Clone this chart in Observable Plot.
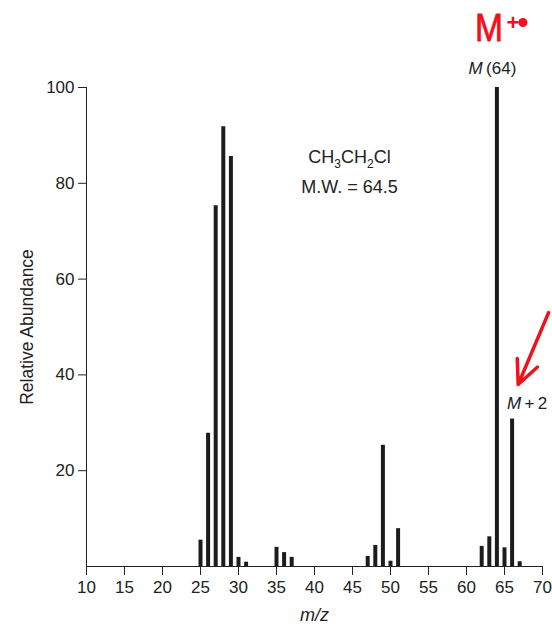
<!DOCTYPE html>
<html>
<head>
<meta charset="utf-8">
<script src="https://cdn.jsdelivr.net/npm/d3@7"></script>
<script src="https://cdn.jsdelivr.net/npm/@observablehq/plot@0.6"></script>
<style>
  html, body { margin: 0; padding: 0; background: white; }
</style>
</head>
<body>
<div id="chart"></div>
<script>
// m/z values of the peaks
const mz = [25, 26, 27, 28, 29, 30, 31, 35, 36, 37, 47, 48, 49, 50, 51, 62, 63, 64, 65, 66, 67];
// relative abundance of each peak
const abundance = [5.5, 27.8, 75.3, 91.8, 85.6, 1.9, 0.9, 4.0, 2.9, 1.9, 2.1, 4.4, 25.3, 1.1, 7.9, 4.2, 6.2, 100, 3.9, 30.8, 1.0];
// tick labels
const xTicks = [10, 15, 20, 25, 30, 35, 40, 45, 50, 55, 60, 65, 70];
const yTicks = [20, 40, 60, 80, 100];

const data = mz.map((m, i) => ({mz: m, ab: abundance[i]}));
const red = "#f2101c";

const plot = Plot.plot({
  width: 552,
  height: 625,
  marginLeft: 86,
  marginRight: 10,
  marginTop: 87,
  marginBottom: 59,
  style: {fontFamily: "'Liberation Sans', Arial, Helvetica, sans-serif", fontSize: "17px", color: "#222", background: "white"},
  x: {domain: [10, 70], ticks: xTicks, tickSize: 9, tickPadding: 5, line: true,
      label: "m/z", labelAnchor: "center", labelOffset: 54, labelArrow: "none"},
  y: {domain: [0, 100], ticks: yTicks, tickSize: 8, tickPadding: 4, line: true,
      label: "Relative Abundance", labelAnchor: "center", labelOffset: 66, labelArrow: "none"},
  marks: [
    Plot.ruleX(data, {x: "mz", y1: 0, y2: "ab", stroke: "#1c1c1c", strokeWidth: 4}),
    Plot.text(["CH3CH2Cl"], {x: 44.6, y: 85.4, text: d => d, fontSize: 18, fill: "#222"}),
    Plot.text(["M.W. = 64.5"], {x: 44.6, y: 79.2, text: d => d, fontSize: 18, fill: "#222"}),
    Plot.text(["M (64)"], {x: 64, y: 100, dx: -4.5, dy: -19, text: d => d, fontSize: 17, fill: "#222"}),
    Plot.text(["M + 2"], {x: 66, y: 30.8, dx: 15, dy: -15, text: d => d, fontSize: 17, fill: "#222"}),
    Plot.text(["M"], {x: 64, y: 100, dx: -8, dy: -59, text: d => d, fontSize: 39, fill: red}),
    Plot.text(["+"], {x: 64, y: 100, dx: 16, dy: -65, text: d => d, fontSize: 22, fontWeight: "bold", fill: red}),
    Plot.dot([0], {x: 64, y: 100, dx: 26, dy: -65, r: 4.5, fill: red}),
    Plot.arrow([0], {x1: 70.8, y1: 53, x2: 66.8, y2: 38, stroke: red, strokeWidth: 3.5, headLength: 16, headAngle: 50})
  ]
});

// rich text post-processing
function rich(content, build) {
  d3.select(plot).selectAll("text")
    .filter(function() { return this.textContent === content; })
    .each(function() { const t = d3.select(this); t.text(null); build(t); });
}
rich("CH3CH2Cl", t => {
  t.append("tspan").text("CH");
  t.append("tspan").attr("dy", 5).attr("font-size", 12).text("3");
  t.append("tspan").attr("dy", -5).text("CH");
  t.append("tspan").attr("dy", 5).attr("font-size", 12).text("2");
  t.append("tspan").attr("dy", -5).text("Cl");
});
rich("M (64)", t => {
  t.append("tspan").attr("font-style", "italic").text("M");
  t.append("tspan").text("\u2009(64)");
});
rich("M + 2", t => {
  t.append("tspan").attr("font-style", "italic").text("M");
  t.append("tspan").text("\u2009+\u20092");
});
rich("M", t => {
  t.text("M").attr("textLength", 28).attr("lengthAdjust", "spacingAndGlyphs")
   .attr("stroke", red).attr("stroke-width", 0.8);
});
rich("m/z", t => { t.attr("font-style", "italic").attr("font-size", 18); t.text("m/z"); });
rich("Relative Abundance", t => { t.attr("font-size", 17.5); t.text("Relative Abundance"); });

document.getElementById("chart").appendChild(plot);
</script>
</body>
</html>
